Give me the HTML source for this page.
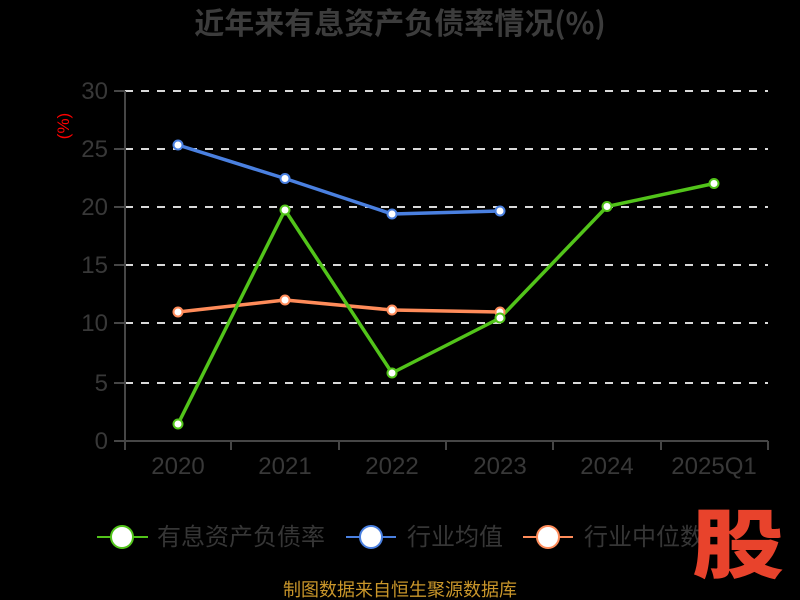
<!DOCTYPE html>
<html><head><meta charset="utf-8"><style>
html,body{margin:0;padding:0;background:#000;width:800px;height:600px;overflow:hidden}
svg{display:block}
text{font-family:"Liberation Sans","Noto Sans CJK SC",sans-serif}
</style></head><body>
<svg width="800" height="600" viewBox="0 0 800 600" xmlns="http://www.w3.org/2000/svg">
<rect width="800" height="600" fill="#000"/>
<text x="400" y="34" text-anchor="middle" font-size="30" font-weight="bold" fill="#3c3c3c" style="font-family:'Noto Sans CJK SC',sans-serif">近年来有息资产负债率情况(%)</text>
<text transform="translate(69,126) rotate(-90)" text-anchor="middle" font-size="17" fill="#ff0000">(%)</text>
<g stroke="#d9d9d9" stroke-width="2" stroke-dasharray="8,8">
<line x1="125" y1="91" x2="768" y2="91"/>
<line x1="125" y1="149" x2="768" y2="149"/>
<line x1="125" y1="207" x2="768" y2="207"/>
<line x1="125" y1="265" x2="768" y2="265"/>
<line x1="125" y1="323" x2="768" y2="323"/>
<line x1="125" y1="383" x2="768" y2="383"/>
</g>
<g stroke="#464646" stroke-width="2">
<line x1="125" y1="91" x2="125" y2="441"/>
<line x1="114" y1="91" x2="125" y2="91"/>
<line x1="114" y1="149" x2="125" y2="149"/>
<line x1="114" y1="207" x2="125" y2="207"/>
<line x1="114" y1="265" x2="125" y2="265"/>
<line x1="114" y1="323" x2="125" y2="323"/>
<line x1="114" y1="383" x2="125" y2="383"/>
<line x1="114" y1="441" x2="768" y2="441"/>
<line x1="125" y1="441" x2="125" y2="450"/>
<line x1="231" y1="441" x2="231" y2="450"/>
<line x1="339" y1="441" x2="339" y2="450"/>
<line x1="446" y1="441" x2="446" y2="450"/>
<line x1="553" y1="441" x2="553" y2="450"/>
<line x1="661" y1="441" x2="661" y2="450"/>
<line x1="768" y1="441" x2="768" y2="450"/>
</g>
<g font-size="24" fill="#383838" text-anchor="end" style="font-family:'Noto Sans CJK SC',sans-serif">
<text x="108" y="99">30</text>
<text x="108" y="157">25</text>
<text x="108" y="215">20</text>
<text x="108" y="273">15</text>
<text x="108" y="331">10</text>
<text x="108" y="391">5</text>
<text x="108" y="449">0</text>
</g>
<g font-size="24" fill="#383838" text-anchor="middle" style="font-family:'Noto Sans CJK SC',sans-serif">
<text x="178" y="474">2020</text>
<text x="285" y="474">2021</text>
<text x="392" y="474">2022</text>
<text x="500" y="474">2023</text>
<text x="607" y="474">2024</text>
<text x="714" y="474">2025Q1</text>
</g>
<g fill="none" stroke-width="3.5" stroke-linejoin="round">
<polyline stroke="#4a80e0" points="178,145 285,178.5 392,214 500,211"/>
<polyline stroke="#ff8c5a" points="178,312 285,300 392,310 500,312"/>
<polyline stroke="#52c41a" points="178,424 285,210 392,373 500,318 607,206.5 714,183.5"/>
</g>
<g fill="#fff" stroke-width="2">
<g stroke="#4a80e0">
<circle cx="178" cy="145" r="4.5"/><circle cx="285" cy="178.5" r="4.5"/><circle cx="392" cy="214" r="4.5"/><circle cx="500" cy="211" r="4.5"/>
</g>
<g stroke="#ff8c5a">
<circle cx="178" cy="312" r="4.5"/><circle cx="285" cy="300" r="4.5"/><circle cx="392" cy="310" r="4.5"/><circle cx="500" cy="312" r="4.5"/>
</g>
<g stroke="#52c41a">
<circle cx="178" cy="424" r="4.5"/><circle cx="285" cy="210" r="4.5"/><circle cx="392" cy="373" r="4.5"/><circle cx="500" cy="318" r="4.5"/><circle cx="607" cy="206.5" r="4.5"/><circle cx="714" cy="183.5" r="4.5"/>
</g>
</g>
<g stroke-width="2">
<line x1="97" y1="537" x2="148" y2="537" stroke="#52c41a"/>
<circle cx="122" cy="537" r="11" fill="#fff" stroke="#52c41a"/>
<line x1="346" y1="537" x2="396" y2="537" stroke="#4a80e0"/>
<circle cx="371" cy="537" r="11" fill="#fff" stroke="#4a80e0"/>
<line x1="523" y1="537" x2="573" y2="537" stroke="#ff8c5a"/>
<circle cx="548" cy="537" r="11" fill="#fff" stroke="#ff8c5a"/>
</g>
<g font-size="24" fill="#363636" style="font-family:'Noto Sans CJK SC',sans-serif">
<text x="157" y="545">有息资产负债率</text>
<text x="407" y="545">行业均值</text>
<text x="584" y="545">行业中位数</text>
</g>
<text transform="translate(738,572) scale(1,0.82)" text-anchor="middle" font-size="92" font-weight="900" fill="#e8432c" style="font-family:'Noto Sans CJK SC',sans-serif">股</text>
<text x="400" y="596" text-anchor="middle" font-size="18" fill="#c9962a" style="font-family:'Noto Sans CJK SC',sans-serif">制图数据来自恒生聚源数据库</text>
</svg>
</body></html>
